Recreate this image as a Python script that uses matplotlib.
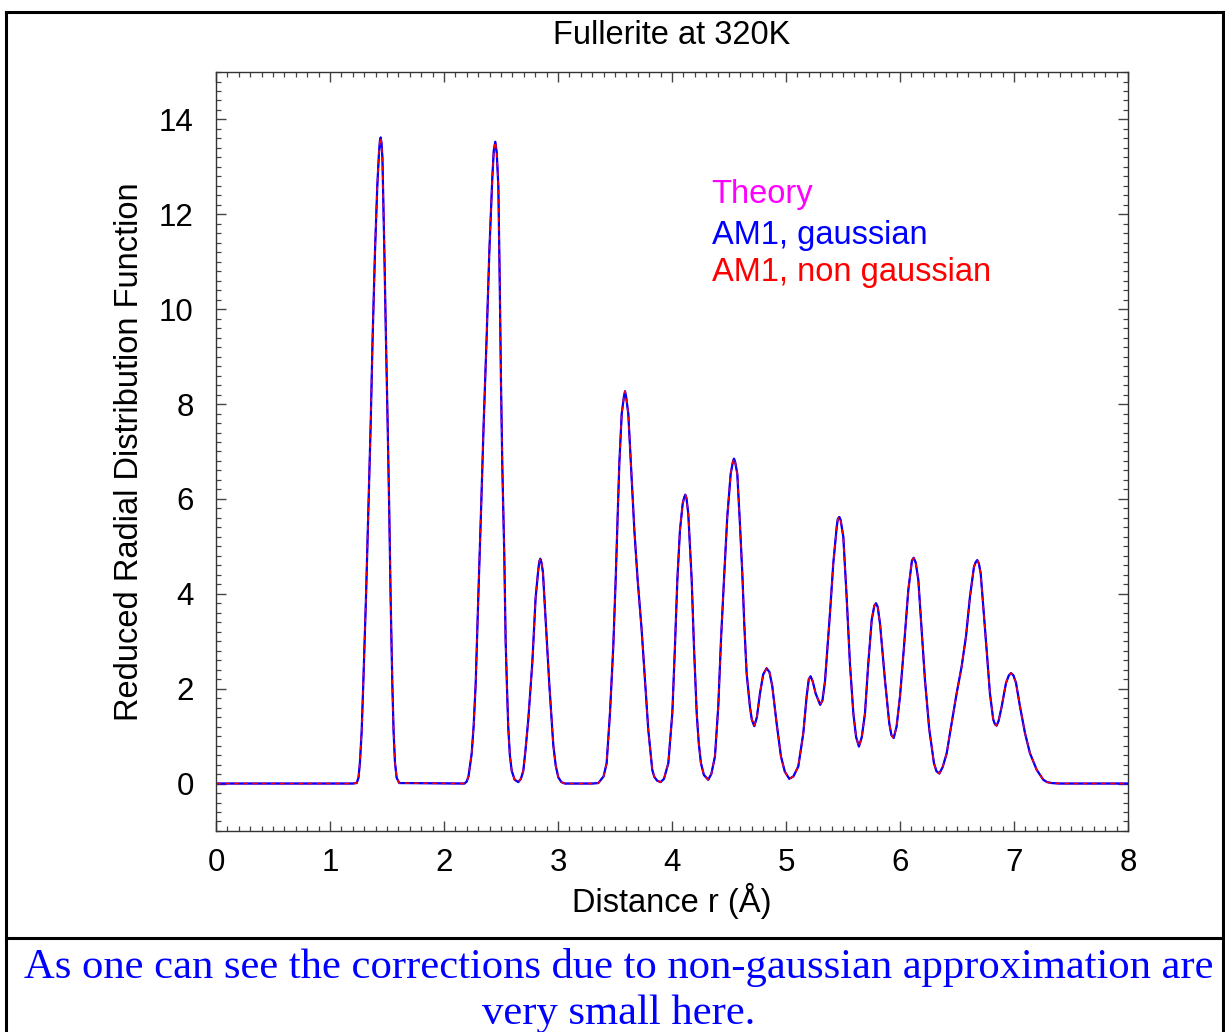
import matplotlib
matplotlib.use("Agg")
import matplotlib.pyplot as plt
from matplotlib.ticker import MultipleLocator
from matplotlib.lines import Line2D

# distance r (Angstrom) and reduced RDF (one line per peak)
r = [0.0, 1.20,
     1.234, 1.25, 1.263, 1.278, 1.292, 1.316, 1.336, 1.357, 1.374, 1.395, 1.415,
     1.430, 1.438, 1.445, 1.452, 1.460, 1.477, 1.491, 1.506, 1.520, 1.532, 1.547,
     1.558, 1.570, 1.585, 1.608,
     2.18, 2.199, 2.215, 2.243, 2.260, 2.278, 2.301, 2.325, 2.348, 2.374, 2.398,
     2.424, 2.437, 2.450, 2.463, 2.477, 2.489, 2.500, 2.512, 2.529, 2.541, 2.553,
     2.564, 2.578, 2.594, 2.620, 2.652,
     2.675, 2.696, 2.715, 2.740, 2.775, 2.804, 2.827, 2.836, 2.845, 2.855, 2.868,
     2.892, 2.924, 2.959, 2.980, 3.003, 3.030, 3.06,
     3.30, 3.354, 3.400, 3.427, 3.456, 3.485, 3.506, 3.524, 3.538, 3.559, 3.578,
     3.588, 3.598, 3.617, 3.647, 3.670, 3.699, 3.734, 3.763, 3.792, 3.827, 3.845,
     3.870, 3.900,
     3.930, 3.968, 4.003, 4.026, 4.047, 4.070, 4.094, 4.107, 4.117, 4.127, 4.143,
     4.173, 4.193, 4.217, 4.235, 4.254, 4.280, 4.318,
     4.345, 4.377, 4.406, 4.430, 4.459, 4.485, 4.515, 4.534, 4.544, 4.554, 4.573,
     4.596, 4.617, 4.634, 4.655, 4.684, 4.700, 4.722,
     4.745, 4.772, 4.800, 4.830, 4.855, 4.880, 4.918, 4.956, 4.990, 5.029,
     5.065, 5.108, 5.152, 5.181, 5.200, 5.216, 5.235, 5.260, 5.300,
     5.320, 5.342, 5.386, 5.415, 5.445, 5.455, 5.468, 5.480, 5.503, 5.532, 5.561,
     5.591, 5.615, 5.640,
     5.665, 5.693, 5.722, 5.752, 5.775, 5.790, 5.805, 5.825, 5.868, 5.906, 5.925,
     5.945,
     5.970, 6.000, 6.035, 6.073, 6.105, 6.120, 6.138, 6.161, 6.190, 6.219, 6.257,
     6.298, 6.320, 6.345,
     6.375, 6.410, 6.453, 6.497, 6.541, 6.579, 6.614, 6.649, 6.665, 6.678, 6.692,
     6.708, 6.731, 6.760, 6.789, 6.818, 6.833, 6.848,
     6.865, 6.892, 6.930, 6.955, 6.974, 6.995, 7.018, 7.053, 7.096, 7.140, 7.199,
     7.257, 7.290, 7.330, 7.40, 8.0]
g_theory = [0.0, 0.0,
            0.01, 0.12, 0.45, 1.10, 2.09, 3.92, 5.74, 7.57, 9.39, 11.22, 12.59,
            13.30, 13.55, 13.62, 13.50, 13.20, 11.22, 9.39, 7.57, 5.74, 3.92, 2.09,
            1.10, 0.45, 0.12, 0.01,
            0.0, 0.04, 0.15, 0.63, 1.20, 2.09, 3.92, 5.74, 7.57, 9.39, 11.22,
            12.77, 13.35, 13.53, 13.30, 12.59, 10.60, 8.48, 6.66, 4.83, 3.00, 2.00,
            1.18, 0.60, 0.27, 0.08, 0.03,
            0.10, 0.27, 0.70, 1.36, 2.55, 3.92, 4.50, 4.68, 4.74, 4.66, 4.46,
            3.46, 2.09, 0.81, 0.38, 0.13, 0.03, 0.0,
            0.0, 0.01, 0.15, 0.43, 1.48, 2.88, 4.29, 5.69, 6.74, 7.79, 8.15,
            8.27, 8.15, 7.79, 6.39, 5.34, 4.29, 3.24, 2.19, 1.14, 0.29, 0.14,
            0.06, 0.03,
            0.10, 0.43, 1.48, 2.88, 4.29, 5.34, 5.90, 6.03, 6.09, 6.02, 5.69,
            4.29, 2.88, 1.48, 0.85, 0.43, 0.18, 0.08,
            0.20, 0.57, 1.62, 3.03, 4.43, 5.62, 6.53, 6.78, 6.85, 6.78, 6.53,
            5.48, 4.43, 3.37, 2.32, 1.62, 1.35, 1.21,
            1.40, 1.90, 2.30, 2.43, 2.35, 2.05, 1.27, 0.57, 0.25, 0.10,
            0.15, 0.36, 1.06, 1.83, 2.20, 2.26, 2.15, 1.90, 1.66,
            1.75, 2.15, 3.59, 4.64, 5.41, 5.58, 5.62, 5.55, 5.20, 3.94, 2.53,
            1.48, 0.98, 0.78,
            0.98, 1.48, 2.53, 3.45, 3.75, 3.80, 3.72, 3.37, 2.19, 1.27, 1.02,
            0.96,
            1.20, 1.83, 2.88, 4.08, 4.70, 4.76, 4.66, 4.29, 3.24, 2.19, 1.14,
            0.43, 0.26, 0.21,
            0.35, 0.64, 1.27, 1.90, 2.47, 3.10, 3.94, 4.57, 4.67, 4.71, 4.64,
            4.43, 3.73, 2.82, 1.90, 1.35, 1.25, 1.22,
            1.32, 1.62, 2.12, 2.28, 2.33, 2.28, 2.12, 1.62, 1.07, 0.64, 0.29,
            0.08, 0.03, 0.01, 0.0, 0.0]
# the two AM1 curves lie on top of the theory curve at this scale
g_am1_gauss = list(g_theory)
g_am1_nongauss = list(g_theory)

legend_labels = ["Theory", "AM1, gaussian", "AM1, non gaussian"]
legend_colors = ["#ff00ff", "#0000ff", "#ff0000"]

plt.rcParams['font.family'] = ['Liberation Sans', 'DejaVu Sans']

fig = plt.figure(figsize=(12.25, 10.32), dpi=100)
ax = fig.add_axes([0.1763, 0.1948, 0.7445, 0.7354])

ax.plot(r, g_theory, color="#ff00ff", lw=1.2, solid_joinstyle="round")
ax.plot(r, g_am1_gauss, color="#0000ff", lw=1.6, solid_joinstyle="round")
ax.plot(r, g_am1_nongauss, color="#ff0000", lw=1.1, ls=(0, (3, 3)))

ax.set_xlim(0, 8)
ax.set_ylim(-1, 15)
ax.xaxis.set_major_locator(MultipleLocator(1))
ax.xaxis.set_minor_locator(MultipleLocator(0.1))
ax.set_yticks(range(0, 15, 2))
ax.yaxis.set_minor_locator(MultipleLocator(0.2))
ax.tick_params(which="both", direction="in", top=True, right=True,
               color="#444444", labelsize=22.5)
ax.tick_params(which="major", length=7.5, width=1)
ax.tick_params(which="minor", length=3.8, width=0.9)
ax.tick_params(axis="x", pad=12)
ax.tick_params(axis="y", pad=16)
for s in ax.spines.values():
    s.set_color("#333333")
    s.set_linewidth(1)

ax.set_xlabel("Distance r (Å)", fontsize=23.5, labelpad=4)
ax.set_ylabel("Reduced Radial Distribution Function", fontsize=23.5, labelpad=10)
ax.set_title("Fullerite at 320K", fontsize=23.5, pad=20)

ys = [0.8278, 0.7730, 0.7250]
for lab, col, yy in zip(legend_labels, legend_colors, ys):
    ax.text(0.5435, yy, lab, color=col, fontsize=23.5, transform=ax.transAxes,
            va="baseline", ha="left")

# frame around the slide
W, H = 1225, 1032
x0, x1, y0 = 6 / W, 1223 / W, 1 - 12 / H
ysep = 1 - 938 / H
for xs, yv in [([x0, x1], [y0, y0]), ([x0, x0], [y0, -0.1]),
               ([x1, x1], [y0, -0.1]), ([x0, x1], [ysep, ysep])]:
    fig.add_artist(Line2D(xs, yv, color="black", lw=2.2,
                          transform=fig.transFigure))

fig.text(0.505, 1 - 978 / H,
         "As one can see the corrections due to non-gaussian approximation are",
         family="Liberation Serif", color="#0000ff", fontsize=30.7,
         ha="center", va="baseline")
fig.text(0.505, 1 - 1024 / H, "very small here.",
         family="Liberation Serif", color="#0000ff", fontsize=30.7,
         ha="center", va="baseline")

fig.savefig("out.png", dpi=100)
